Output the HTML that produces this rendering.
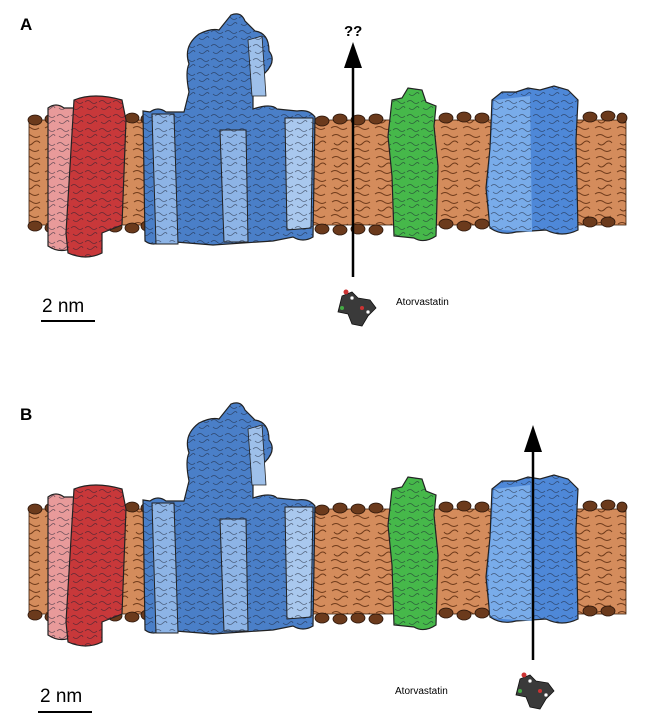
<!DOCTYPE html>
<html><head><meta charset="utf-8"><style>
html,body{margin:0;padding:0;background:#fff;width:650px;height:726px;overflow:hidden}
svg{display:block}
text{font-family:"Liberation Sans",sans-serif}
</style></head><body>
<svg width="650" height="726" viewBox="0 0 650 726" xmlns="http://www.w3.org/2000/svg">
<defs>
<pattern id="lip" width="22" height="22" patternUnits="userSpaceOnUse">
<rect width="22" height="22" fill="#d48c5c"/>
<path d="M2 4 q4 -3 8 0 t8 0 M4 11 q3 4 7 0 t7 0 M1 18 q4 -3 8 0 t8 0" stroke="#6e3a1a" stroke-width="1" fill="none"/>
</pattern>
<pattern id="wig" width="14" height="14" patternUnits="userSpaceOnUse">
<path d="M1 4 q3 -3 6 0 t6 0 M3 10 q3 3 6 0 t4 0" stroke="#1a2030" stroke-width="0.8" fill="none" opacity="0.6"/>
</pattern>
<path id="pRedL" d="M48 108 q8 -6 16 0 l10 0 l-2 140 q-12 6 -24 -2 z"/>
<path id="pRed" d="M74 100 q20 -8 48 0 l4 20 l-4 105 l-20 8 l0 20 q-16 8 -34 0 l-2 -20 z"/>
<path id="pBlue" d="M150 112 q8 -6 16 0 l18 0 l5 -20 q-4 -20 0 -28 q-6 -18 10 -30 q12 -6 20 -4 l12 -15 q10 -4 14 6 l10 10 q14 2 14 20 q8 10 -4 22 l-12 6 l0 30 q18 -6 24 0 l20 2 q12 -2 18 6 l-2 120 q-10 6 -20 0 l-20 4 l-60 4 l-50 -4 q-10 6 -18 0 l-2 -130 z"/>
<path id="pGreen" d="M392 100 l10 -2 l6 -10 l14 2 l4 12 l10 4 l-2 20 l4 40 l-2 70 q-12 8 -22 2 l-20 -2 l-2 -60 l-4 -40 z"/>
<path id="pRB" d="M492 100 l10 -8 l14 0 l12 -4 l12 2 l14 -4 l14 4 l10 10 l-2 40 l2 90 q-16 8 -32 0 l-30 2 q-14 4 -26 -4 l-4 -40 l4 -40 z"/>
<g id="panel">
<rect x="29" y="120" width="597" height="105" fill="url(#lip)" stroke="#3a1e0a" stroke-width="0.8"/>
<g fill="#6b3a1c" stroke="#2a150a" stroke-width="0.8">
<ellipse cx="35" cy="120" rx="7" ry="5"/><ellipse cx="52" cy="119" rx="7" ry="5"/>
<ellipse cx="115" cy="118" rx="7" ry="5"/><ellipse cx="132" cy="118" rx="7" ry="5"/><ellipse cx="147" cy="119" rx="6" ry="5"/>
<ellipse cx="322" cy="121" rx="7" ry="5"/><ellipse cx="340" cy="119" rx="7" ry="5"/><ellipse cx="358" cy="120" rx="7" ry="5"/><ellipse cx="376" cy="119" rx="7" ry="5"/>
<ellipse cx="446" cy="118" rx="7" ry="5"/><ellipse cx="464" cy="117" rx="7" ry="5"/><ellipse cx="482" cy="118" rx="7" ry="5"/>
<ellipse cx="590" cy="117" rx="7" ry="5"/><ellipse cx="608" cy="116" rx="7" ry="5"/><ellipse cx="622" cy="118" rx="5" ry="5"/>
<ellipse cx="35" cy="226" rx="7" ry="5"/><ellipse cx="52" cy="228" rx="7" ry="5"/>
<ellipse cx="115" cy="227" rx="7" ry="5"/><ellipse cx="132" cy="228" rx="7" ry="5"/><ellipse cx="147" cy="226" rx="6" ry="5"/>
<ellipse cx="322" cy="229" rx="7" ry="5"/><ellipse cx="340" cy="230" rx="7" ry="5"/><ellipse cx="358" cy="229" rx="7" ry="5"/><ellipse cx="376" cy="230" rx="7" ry="5"/>
<ellipse cx="446" cy="224" rx="7" ry="5"/><ellipse cx="464" cy="226" rx="7" ry="5"/><ellipse cx="482" cy="224" rx="7" ry="5"/>
<ellipse cx="590" cy="222" rx="7" ry="5"/><ellipse cx="608" cy="222" rx="7" ry="5"/>
</g>
<use href="#pRedL" fill="#e89a9a" stroke="#222" stroke-width="1.2"/>
<use href="#pRedL" fill="url(#wig)"/>
<use href="#pRed" fill="#c8383a" stroke="#222" stroke-width="1.2"/>
<use href="#pRed" fill="url(#wig)"/>
<use href="#pBlue" fill="#4a7fc8" stroke="#222" stroke-width="1.2"/>
<path d="M152 114 l22 0 l4 130 l-22 0 z" fill="#8db4e6" stroke="#222" stroke-width="1"/>
<path d="M220 130 l26 0 l2 112 l-24 0 z" fill="#8db4e6" stroke="#222" stroke-width="1"/>
<path d="M285 118 l28 0 l-2 110 l-24 2 z" fill="#a9c8ee" stroke="#222" stroke-width="1"/>
<path d="M248 40 l14 -4 l4 60 l-14 0 z" fill="#9ec0ea" stroke="#222" stroke-width="0.8"/>
<use href="#pBlue" fill="url(#wig)"/>
<use href="#pGreen" fill="#46b84a" stroke="#222" stroke-width="1.2"/>
<use href="#pGreen" fill="url(#wig)"/>
<use href="#pRB" fill="#4e88d8" stroke="#222" stroke-width="1.2"/>
<path d="M494 100 l36 -4 l2 136 l-30 -2 q-8 0 -12 -4 l-2 -40 z" fill="#7eb0ec" opacity="0.9"/>
<use href="#pRB" fill="url(#wig)"/>
</g>
<g id="mol">
<path d="M-14 -8 l10 -4 l6 6 l12 2 l6 8 l-8 8 l-6 10 l-10 -2 l-4 -10 l-10 -2 z" fill="#3a3a3a" stroke="#111" stroke-width="0.8"/>
<circle cx="-10" cy="-12" r="2.5" fill="#c33"/><circle cx="-4" cy="-6" r="2" fill="#fff" stroke="#333" stroke-width="0.5"/><circle cx="6" cy="4" r="2" fill="#c33"/><circle cx="-14" cy="4" r="2" fill="#4a4"/><circle cx="12" cy="8" r="2" fill="#fff" stroke="#333" stroke-width="0.5"/>
</g>
</defs>

<text x="20" y="30" font-size="17" font-weight="bold">A</text>
<use href="#panel"/>
<line x1="353" y1="277" x2="353" y2="62" stroke="#000" stroke-width="2.5"/>
<polygon points="353,42 344,68 362,68" fill="#000"/>
<text x="344" y="36" font-size="15" font-weight="bold">??</text>
<use href="#mol" transform="translate(356,304)"/>
<text x="396" y="305" font-size="10">Atorvastatin</text>
<text x="42" y="312" font-size="19">2 nm</text>
<line x1="41" y1="321" x2="95" y2="321" stroke="#000" stroke-width="2"/>

<text x="20" y="420" font-size="17" font-weight="bold">B</text>
<use href="#panel" transform="translate(0,389)"/>
<line x1="533" y1="660" x2="533" y2="445" stroke="#000" stroke-width="2.5"/>
<polygon points="533,425 524,452 542,452" fill="#000"/>
<use href="#mol" transform="translate(534,687)"/>
<text x="395" y="694" font-size="10">Atorvastatin</text>
<text x="40" y="702" font-size="19">2 nm</text>
<line x1="38" y1="712" x2="92" y2="712" stroke="#000" stroke-width="2"/>
</svg>
</body></html>
